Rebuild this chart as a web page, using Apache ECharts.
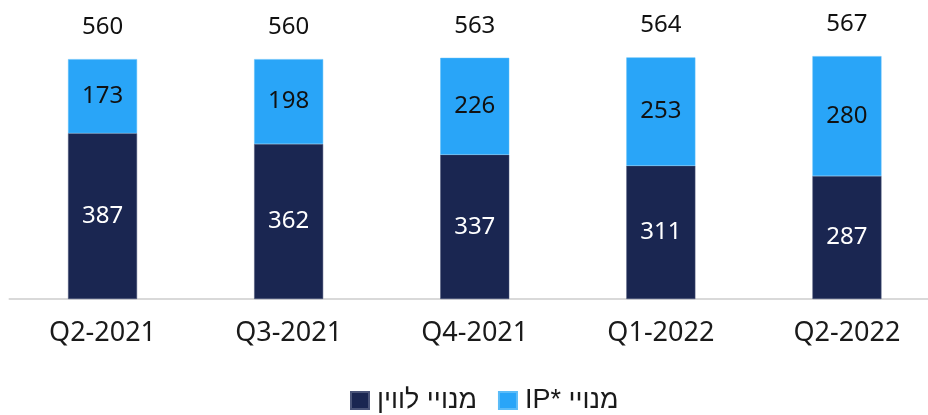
<!DOCTYPE html>
<html>
<head>
<meta charset="utf-8">
<script src="https://cdn.jsdelivr.net/npm/echarts@6/dist/echarts.min.js"></script>
<style>
  html, body { margin: 0; padding: 0; background: #ffffff; overflow: hidden; }
  #chart { width: 940px; height: 415px; }
</style>
</head>
<body>
<div id="chart"></div>
<script>
// Quarterly subscriber counts (thousands)
const quarters = ['Q2-2021', 'Q3-2021', 'Q4-2021', 'Q1-2022', 'Q2-2022'];
const satelliteSubs = [387, 362, 337, 311, 287];
const ipSubs = [173, 198, 226, 253, 280];
const totalSubs = [560, 560, 563, 564, 567];
const seriesNames = ['מנויי לווין', 'IP* מנויי'];

const DARK = '#1a2651';
const LIGHT = '#29a5f8';
const FONT = '"Noto Sans", "Liberation Sans", sans-serif';

const chart = echarts.init(document.getElementById('chart'), null, { renderer: 'canvas' });

chart.setOption({
  animation: false,
  backgroundColor: '#ffffff',
  grid: { left: 9.5, right: 0, top: 42, bottom: 116, containLabel: false },
  legend: {
    data: seriesNames,
    top: 382,
    left: 345,
    itemWidth: 18,
    itemHeight: 17,
    itemGap: 21,
    icon: 'rect',
    textStyle: { fontFamily: '"Liberation Sans", "DejaVu Sans", sans-serif', fontSize: 27, color: '#1a1a1a', padding: [0, 0, 0, 3] }
  },
  xAxis: {
    type: 'category',
    data: quarters,
    axisLine: { lineStyle: { color: '#d9d9d9', width: 2 } },
    axisTick: { show: false },
    axisLabel: { fontFamily: FONT, fontSize: 27, color: '#1a1a1a', margin: 21 }
  },
  yAxis: {
    type: 'value',
    min: 0,
    max: 600,
    show: false,
    splitLine: { show: false }
  },
  series: [
    {
      name: seriesNames[0],
      type: 'bar',
      stack: 'subs',
      barWidth: 69,
      data: satelliteSubs,
      itemStyle: { color: DARK, borderColor: '#4a5478', borderWidth: 0.5 },
      label: { show: true, position: 'inside', color: '#ffffff', fontFamily: FONT, fontSize: 24 }
    },
    {
      name: seriesNames[1],
      type: 'bar',
      stack: 'subs',
      barWidth: 69,
      data: ipSubs,
      itemStyle: { color: LIGHT, borderColor: '#5bbcf8', borderWidth: 0.5 },
      label: { show: true, position: 'inside', color: '#111111', fontFamily: FONT, fontSize: 24 }
    },
    {
      name: 'total',
      type: 'bar',
      stack: 'subs',
      barWidth: 69,
      silent: true,
      data: totalSubs.map(() => 0),
      itemStyle: { color: 'transparent' },
      label: {
        show: true,
        position: 'top',
        distance: 20,
        color: '#111111',
        fontFamily: FONT,
        fontSize: 24,
        formatter: (p) => String(totalSubs[p.dataIndex])
      }
    }
  ]
});
</script>
</body>
</html>
